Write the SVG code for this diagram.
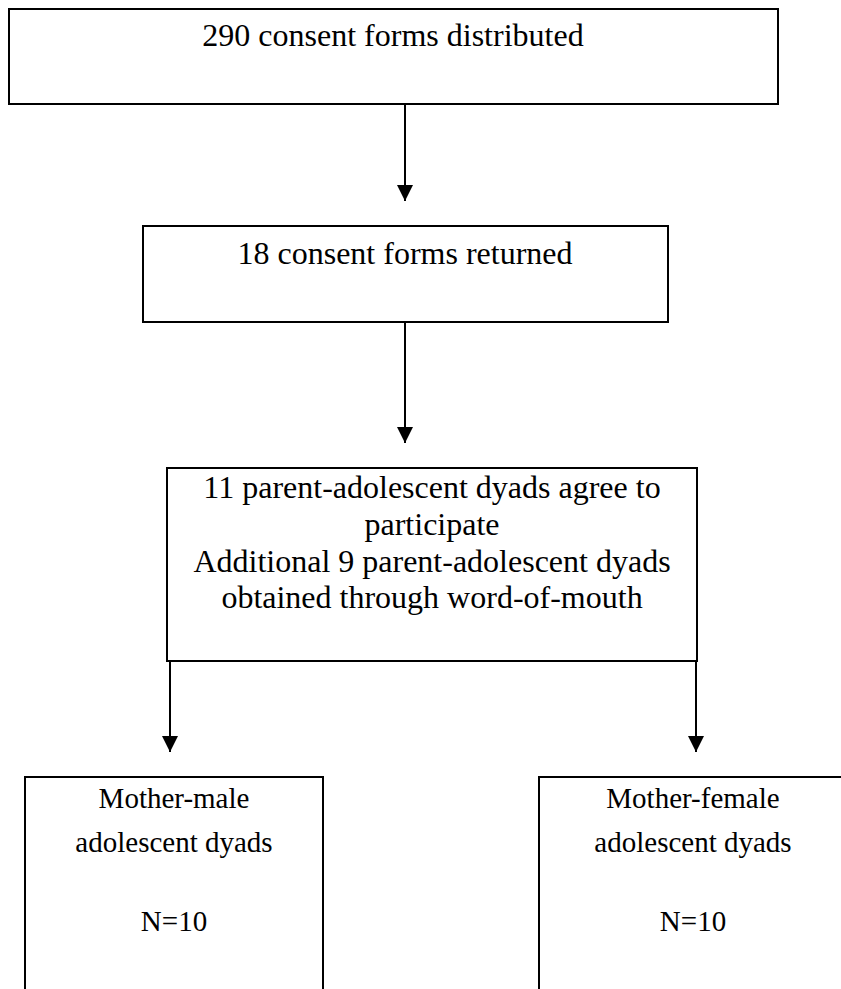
<svg xmlns="http://www.w3.org/2000/svg" width="841" height="989" viewBox="0 0 841 989">
<style>
.box{fill:#fff;stroke:#000;stroke-width:2}
.t{font-family:"Liberation Serif","Times New Roman",serif;font-size:32px;fill:#000;text-anchor:middle}
.s{font-family:"Liberation Serif","Times New Roman",serif;font-size:29px;fill:#000;text-anchor:middle}
.c{stroke:#000;stroke-width:2;fill:none}
</style>
<defs>
<marker id="ah" markerWidth="16" markerHeight="16" refX="16" refY="8" orient="auto" markerUnits="userSpaceOnUse" viewBox="0 0 16 16">
<path d="M0,0 L16,8 L0,16 Z" fill="#000"/>
</marker>
</defs>
<rect width="841" height="989" fill="#fff"/>
<g id="n1">
<rect class="box" x="9" y="9" width="769" height="95"/>
<text class="t" x="393" y="46">290 consent forms distributed</text>
</g>
<g id="n2">
<rect class="box" x="143" y="226" width="525" height="96"/>
<text class="t" x="405" y="264">18 consent forms returned</text>
</g>
<g id="n3">
<rect class="box" x="167" y="468" width="530" height="193"/>
<text class="t" x="432" y="498">11 parent-adolescent dyads agree to</text>
<text class="t" x="432" y="535">participate</text>
<text class="t" x="432" y="572">Additional 9 parent-adolescent dyads</text>
<text class="t" x="432" y="608">obtained through word-of-mouth</text>
</g>
<g id="n4">
<rect class="box" x="25" y="777" width="298" height="230"/>
<text class="s" x="174" y="808">Mother-male</text>
<text class="s" x="174" y="852">adolescent dyads</text>
<text class="s" x="174" y="931">N=10</text>
</g>
<g id="n5">
<rect class="box" x="539" y="777" width="320" height="230"/>
<text class="s" x="693" y="808">Mother-female</text>
<text class="s" x="693" y="852">adolescent dyads</text>
<text class="s" x="693" y="931">N=10</text>
</g>
<g id="connectors">
<line class="c" x1="405" y1="104" x2="405" y2="201" marker-end="url(#ah)"/>
<line class="c" x1="405" y1="322" x2="405" y2="443" marker-end="url(#ah)"/>
<line class="c" x1="170" y1="661" x2="170" y2="752" marker-end="url(#ah)"/>
<line class="c" x1="696" y1="661" x2="696" y2="752" marker-end="url(#ah)"/>
</g>
</svg>
